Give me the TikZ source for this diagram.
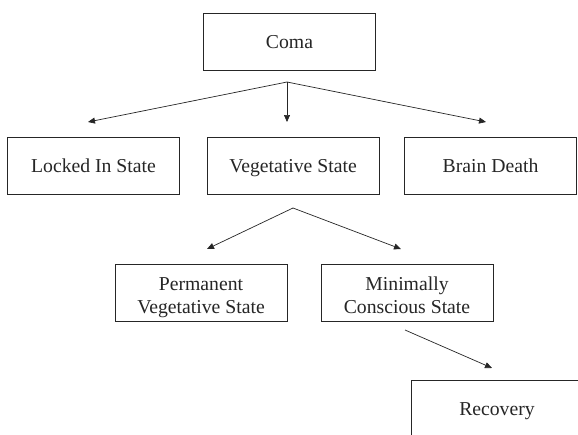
\documentclass[tikz,border=0pt]{standalone}
\usepackage{fontspec}
\setmainfont{Liberation Serif}
\usetikzlibrary{arrows.meta,positioning}
\definecolor{inkgray}{HTML}{262626}

\newcommand{\lowerline}{\rule{0pt}{25pt}}

\tikzset{
  statebox/.style={draw=inkgray, line width=0.9pt, minimum width=172pt, minimum height=57pt,
    inner sep=0pt, align=center, text=inkgray, font=\fontsize{19.7}{23.6}\selectfont,
    execute at begin node={\rule{0pt}{19pt}}, execute at end node={\rule[-6pt]{0pt}{6pt}}},
  branch/.style={draw=inkgray, line width=0.7pt, -{Triangle[length=7pt,width=6pt]}}
}

\begin{document}
\begin{tikzpicture}[x=1pt,y=-1pt]
\useasboundingbox (0,0) rectangle (578,434);
\clip (0,0) rectangle (578,434);
\fill[white] (0,0) rectangle (578,434);

% boxes
\node[statebox] (coma) at (289.5,42) {Coma};
\node[statebox] (locked) at (93.5,165.5) {Locked In State};
\node[statebox] (veg) at (293,165.5) {Vegetative State};
\node[statebox] (death) at (490.5,165.5) {Brain Death};
\node[statebox] (pvs) at (201,292.5) {\lowerline Permanent\\Vegetative State};
\node[statebox] (mcs) at (407,292.5) {\lowerline Minimally\\Conscious State};
\node[statebox] (recovery) at (497,408.5) {Recovery};

% fork points and arrow ends
\coordinate (comafork) at (287,82);
\coordinate (lockedtip) at (88,122);
\coordinate (vegtip) at (287,122);
\coordinate (deathtip) at (486,122);
\coordinate (vegfork) at (293,208);
\coordinate (pvstip) at (207,249);
\coordinate (mcstip) at (401,249);
\coordinate (mcsfoot) at (405,330);
\coordinate (recoverytip) at (492,368);

% arrows
\draw[branch] (comafork) -- (lockedtip);
\draw[branch] (comafork) -- (vegtip);
\draw[branch] (comafork) -- (deathtip);
\draw[branch] (vegfork) -- (pvstip);
\draw[branch] (vegfork) -- (mcstip);
\draw[branch] (mcsfoot) -- (recoverytip);
\end{tikzpicture}
\end{document}
